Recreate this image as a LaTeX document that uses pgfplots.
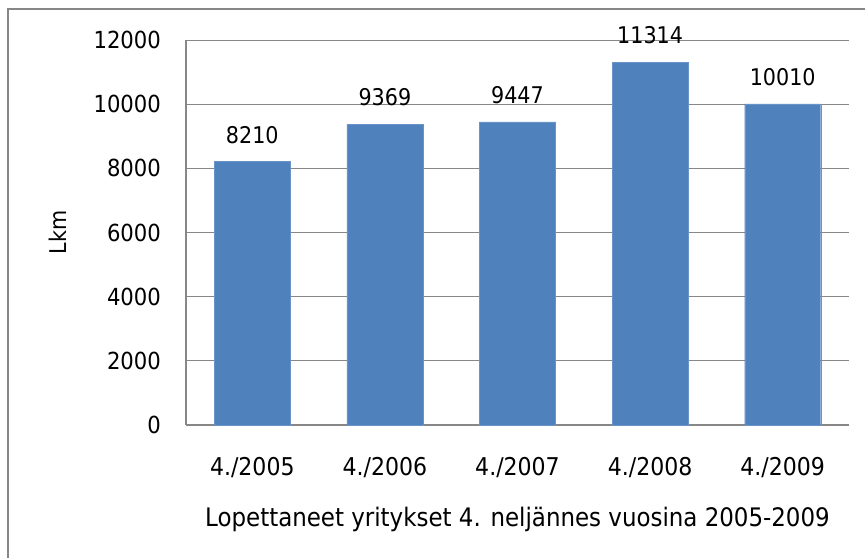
\documentclass[border=0pt]{standalone}
\usepackage{pgfplots}
\pgfplotsset{compat=1.18}
\usepackage{fontspec}
\setmainfont{DejaVu Sans Condensed}
\definecolor{barblue}{HTML}{4F81BD}
\definecolor{gridgray}{HTML}{878787}
\begin{document}
\begin{tikzpicture}
\useasboundingbox (0,0) rectangle (865bp,-558bp);
\begin{axis}[
  at={(186bp,-425bp)}, anchor=south west,
  scale only axis, width=663bp, height=385bp,
  font=\fontsize{23bp}{27bp}\selectfont,
  /pgf/number format/assume math mode=true,
  /pgf/number format/1000 sep={},
  scaled y ticks=false,
  ymin=0, ymax=12000, ytick={0,2000,...,12000},
  xmin=-0.5, xmax=4.5, xtick=data,
  xticklabels={4./2005,4./2006,4./2007,4./2008,4./2009},
  major tick length=0pt,
  ymajorgrids, grid style={gridgray, line width=1pt},
  axis x line*=bottom, axis y line*=left,
  axis line style={gridgray, line width=1.2pt},
  yticklabel style={anchor=east, inner sep=0pt, xshift=-25bp, font=\fontsize{23.5bp}{27bp}\selectfont},
  xticklabel style={anchor=north, inner sep=0pt, yshift=-32bp, font=\fontsize{24.5bp}{28bp}\selectfont},
  xlabel={Lopettaneet yritykset 4. neljännes vuosina 2005-2009},
  xlabel style={at={(axis description cs:0.5,0)}, anchor=center, yshift=-94bp, font=\fontsize{25.5bp}{30bp}\selectfont},
  ylabel={Lkm},
  ylabel style={at={(axis description cs:0,0.5)}, anchor=center, yshift=128bp},
  ybar, bar width=76bp,
  nodes near coords,
  nodes near coords style={anchor=south, inner sep=0pt, yshift=18bp, /pgf/number format/1000 sep={}},
  enlarge x limits=false,
  clip=false,
]
\addplot[fill=barblue, draw=barblue!85!white] coordinates {(0,8210) (1,9369) (2,9447) (3,11314) (4,10010)};
\end{axis}
\draw[gridgray, line width=1.2pt] (8bp,-570bp) -- (8bp,-9bp) -- (880bp,-9bp);
\end{tikzpicture}
\end{document}
